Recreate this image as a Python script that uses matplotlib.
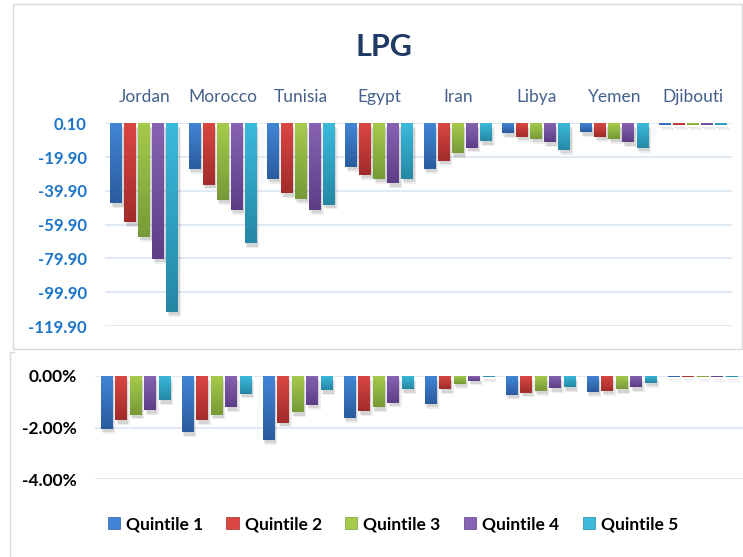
import numpy as np
import matplotlib
matplotlib.use("Agg")
import matplotlib.pyplot as plt
from matplotlib.colors import LinearSegmentedColormap
from matplotlib.patches import Rectangle
from matplotlib.lines import Line2D
from matplotlib.ticker import FormatStrFormatter, PercentFormatter
import matplotlib.patheffects as pe

plt.rcParams['axes.unicode_minus'] = False
plt.rcParams['font.family'] = ['Lato', 'DejaVu Sans']

countries = ['Jordan', 'Morocco', 'Tunisia', 'Egypt', 'Iran', 'Libya', 'Yemen', 'Djibouti']
quintiles = ['Quintile 1', 'Quintile 2', 'Quintile 3', 'Quintile 4', 'Quintile 5']

# LPG change (level) by quintile
lpg_q1 = [-47.3, -26.9, -32.8, -25.7, -26.9, -5.8, -5.2, -0.8]
lpg_q2 = [-58.5, -36.2, -41.3, -30.3, -22.2, -7.8, -7.8, -0.8]
lpg_q3 = [-67.0, -45.3, -44.7, -32.8, -17.7, -9.2, -9.2, -0.8]
lpg_q4 = [-80.2, -51.2, -51.2, -35.4, -14.3, -11.1, -11.1, -0.8]
lpg_q5 = [-111.4, -70.9, -48.0, -32.8, -10.4, -15.7, -14.5, -0.8]

# LPG change (% of expenditure) by quintile
pct_q1 = [-2.05, -2.18, -2.47, -1.63, -1.08, -0.73, -0.62, -0.04]
pct_q2 = [-1.72, -1.72, -1.81, -1.37, -0.53, -0.65, -0.58, -0.04]
pct_q3 = [-1.50, -1.50, -1.42, -1.21, -0.31, -0.58, -0.53, -0.04]
pct_q4 = [-1.33, -1.21, -1.13, -1.04, -0.19, -0.49, -0.44, -0.04]
pct_q5 = [-0.95, -0.69, -0.56, -0.53, -0.06, -0.44, -0.28, -0.04]

top_ticks = [0.10, -19.90, -39.90, -59.90, -79.90, -99.90, -119.90]
pct_ticks = [0.0, -2.0, -4.0]

level_series = [lpg_q1, lpg_q2, lpg_q3, lpg_q4, lpg_q5]
pct_series = [pct_q1, pct_q2, pct_q3, pct_q4, pct_q5]

# light (near axis) and dark (bar end) shades for each quintile
shades = [('#4285D6', '#2A5C9E'),
          ('#DA4743', '#A12C2A'),
          ('#A6CB4B', '#779A38'),
          ('#8763B3', '#5D3E86'),
          ('#3BBADC', '#2588A5')]

W, H = 743, 557
fig = plt.figure(figsize=(W / 100, H / 100), dpi=100)
fig.patch.set_facecolor('white')


def px_axes(left, top, right, bottom):
    return fig.add_axes([left / W, 1 - bottom / H, (right - left) / W, (bottom - top) / H])


def gradient_bars(ax, values_list, pitch, width):
    x = np.arange(len(countries))
    shadow = [pe.SimplePatchShadow(offset=(1.0, -2.5), shadow_rgbFace='#000000', alpha=0.10),
              pe.SimplePatchShadow(offset=(2.0, -3.5), shadow_rgbFace='#000000', alpha=0.07),
              pe.Normal()]
    for i, (vals, (c_top, c_bot)) in enumerate(zip(values_list, shades)):
        bars = ax.bar(x + (i - 2) * pitch, vals, width, color=c_top, zorder=3,
                      linewidth=0, path_effects=shadow)
        cmap = LinearSegmentedColormap.from_list('q%d' % i, [c_top, c_bot])
        grad = np.linspace(0, 1, 64).reshape(-1, 1)
        for b in bars:
            x0, w, h = b.get_x(), b.get_width(), b.get_height()
            im = ax.imshow(grad, cmap=cmap, extent=(x0, x0 + w, h, 0), origin='upper',
                           aspect='auto', zorder=3.2, interpolation='bilinear')
            im.set_clip_path(b)


def style_axes(ax):
    for s in ax.spines.values():
        s.set_visible(False)
    ax.yaxis.grid(True, color='#D9E3F1', linewidth=1.1)
    ax.set_axisbelow(True)
    ax.tick_params(length=0)
    ax.set_facecolor('none')


# chart frames
fig.add_artist(Rectangle((13 / W, 1 - 349 / H), (742 - 13) / W, (349 - 4) / H,
                         transform=fig.transFigure, fill=False, edgecolor='#D9D9D9', lw=1))
fig.add_artist(Line2D([10 / W, 10 / W], [1 - 352 / H, 0], transform=fig.transFigure,
                      color='#D9D9D9', lw=1))
fig.add_artist(Line2D([10 / W, 14 / W], [1 - 352 / H, 1 - 352 / H], transform=fig.transFigure,
                      color='#D9D9D9', lw=1))

# --- upper panel: level change ---
ax1 = px_axes(105, 123.3, 732, 326)
gradient_bars(ax1, level_series, 0.179, 0.153)
style_axes(ax1)
ax1.set_xlim(-0.5, 7.5)
ax1.set_ylim(-119.90, 0.10)
ax1.set_yticks(top_ticks)
ax1.yaxis.set_major_formatter(FormatStrFormatter('%.2f'))
ax1.tick_params(axis='y', labelsize=12, labelcolor='#1C75C8', pad=13)
for t in ax1.get_yticklabels():
    t.set_fontweight('bold')
ax1.xaxis.tick_top()
ax1.set_xticks(range(len(countries)), countries)
ax1.tick_params(axis='x', labelsize=12.5, labelcolor='#44618C', pad=13,
                labelbottom=False, labeltop=True)

fig.text(384 / W, 1 - 47 / H, 'LPG', ha='center', va='center', fontsize=22,
         fontweight='bold', color='#1F3864')

# --- lower panel: percentage change ---
ax2 = px_axes(95, 375.7, 743, 479.3)
gradient_bars(ax2, pct_series, 0.179, 0.144)
style_axes(ax2)
ax2.set_xlim(-0.5, 7.5)
ax2.set_ylim(-4.0, 0.0)
ax2.set_yticks(pct_ticks)
ax2.yaxis.set_major_formatter(PercentFormatter(xmax=100, decimals=2))
ax2.tick_params(axis='y', labelsize=12.5, labelcolor='black', pad=13)
for t in ax2.get_yticklabels():
    t.set_fontweight('bold')
ax2.set_xticks([])

handles = [Rectangle((0, 0), 1, 1, facecolor=c_top, edgecolor=c_bot, lw=0.5) for c_top, c_bot in shades]
fig.legend(handles, quintiles, loc='center', bbox_to_anchor=(393 / W, 1 - 524 / H),
           ncol=5, frameon=False, handlelength=0.7, handleheight=0.7, handletextpad=0.35,
           columnspacing=1.35, prop={'weight': 'bold', 'size': 12.5})

fig.savefig('out.png', dpi=100, facecolor='white')
